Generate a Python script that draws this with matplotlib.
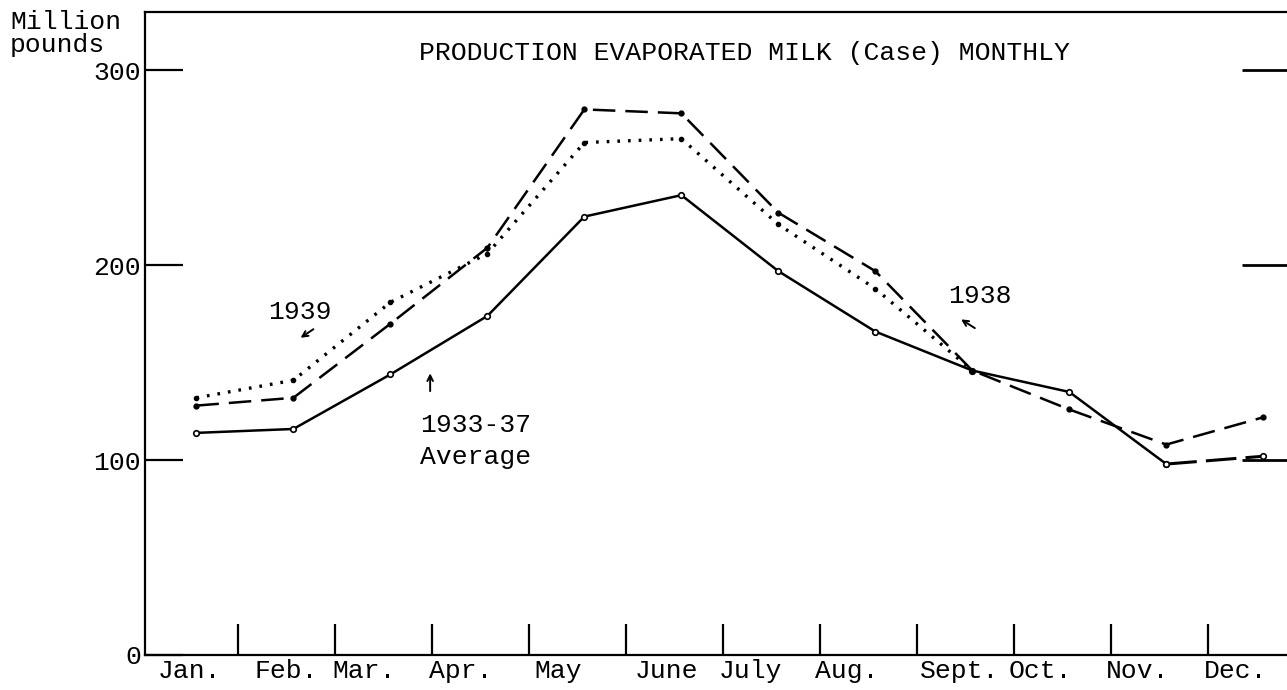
import numpy as np
import matplotlib
matplotlib.use("Agg")
from matplotlib import pyplot as plt

# data (million pounds)
months = ["Jan.", "Feb.", "Mar.", "Apr.", "May", "June", "July", "Aug.",
          "Sept.", "Oct.", "Nov.", "Dec."]
avg_3337 = [114, 116, 144, 174, 225, 236, 197, 166, 146, 135, 98, 102]
y1938 = [128, 132, 170, 209, 280, 278, 227, 197, 146, 126, 108, 122]
y1939 = [132, 141, 181, 206, 263, 265, 221, 188, 146]

# layout: where points / labels sit along the month axis
x_pts = np.arange(12) + 0.57
label_pos = [0.5, 1.5, 2.3, 3.3, 4.3, 5.42, 6.28, 7.28, 8.44, 9.27, 10.27, 11.28]

plt.rcParams['font.family'] = ['Liberation Mono', 'DejaVu Sans Mono']
fs = 19

fig = plt.figure(figsize=(12.87, 6.9), dpi=100)
ax = fig.add_axes([145/1287, 35/690, (1300-145)/1287, (655-12)/690])

# 1933-37 average (solid, last stretch dashed)
ax.plot(x_pts[:11], avg_3337[:11], color='black', lw=1.8, marker='o',
        ms=4, mfc='white', mew=1.2)
ax.plot(x_pts[10:], avg_3337[10:], color='black', lw=2.2,
        linestyle=(0, (10, 3)), marker='o', ms=4, mfc='white', mew=1.2)
# 1938 dashed
ax.plot(x_pts, y1938, color='black', lw=1.8, linestyle=(0, (9, 4)),
        marker='o', ms=3.5)
# 1939 dotted
ax.plot(x_pts[:len(y1939)], y1939, color='black', lw=2.4,
        linestyle=(0, (0.8, 2.4)), marker='o', ms=3)

ax.set_xlim(0.04, (1300-141)/97)
ax.set_ylim(0, 330)

ax.set_yticks([0, 100, 200, 300])
ax.set_yticklabels(["0", "100", "200", "300"], fontsize=fs)
ax.tick_params(axis='y', direction='in', length=27, width=1.6, pad=3)

ax.set_xticks(np.arange(1, 12))
ax.set_xticklabels([])
ax.tick_params(axis='x', direction='in', length=22, width=1.6)
ax.set_xticks(label_pos, minor=True)
ax.set_xticklabels(months, minor=True, fontsize=fs)
ax.tick_params(axis='x', which='minor', length=0, pad=3)

for s in ['left', 'top', 'bottom', 'right']:
    ax.spines[s].set_linewidth(1.6)

sec = ax.secondary_yaxis('right')
sec.set_yticks([100, 200, 300])
sec.set_yticklabels([])
sec.tick_params(direction='in', length=42, width=2)

ax.text(6.22, 309, "PRODUCTION EVAPORATED MILK (Case) MONTHLY",
        ha='center', va='center', fontsize=fs)
fig.text(10/1287, 1 - 22/690, "Million", fontsize=fs, va='center', ha='left')
fig.text(10/1287, 1 - 45/690, "pounds", fontsize=fs, va='center', ha='left')

ax.text(1.64, 176, "1939", ha='center', va='center', fontsize=fs)
ax.annotate("", xy=(1.62, 162), xytext=(1.8, 168),
            arrowprops=dict(arrowstyle='->', lw=1.4, color='black'))
ax.text(2.88, 118, "1933-37", ha='left', va='center', fontsize=fs)
ax.text(2.88, 101.5, "Average", ha='left', va='center', fontsize=fs)
ax.annotate("", xy=(2.98, 146), xytext=(2.98, 134),
            arrowprops=dict(arrowstyle='->', lw=1.4, color='black'))
ax.text(8.65, 184, "1938", ha='center', va='center', fontsize=fs)
ax.annotate("", xy=(8.43, 173), xytext=(8.62, 167),
            arrowprops=dict(arrowstyle='->', lw=1.4, color='black'))

fig.savefig("out.png", dpi=100)
